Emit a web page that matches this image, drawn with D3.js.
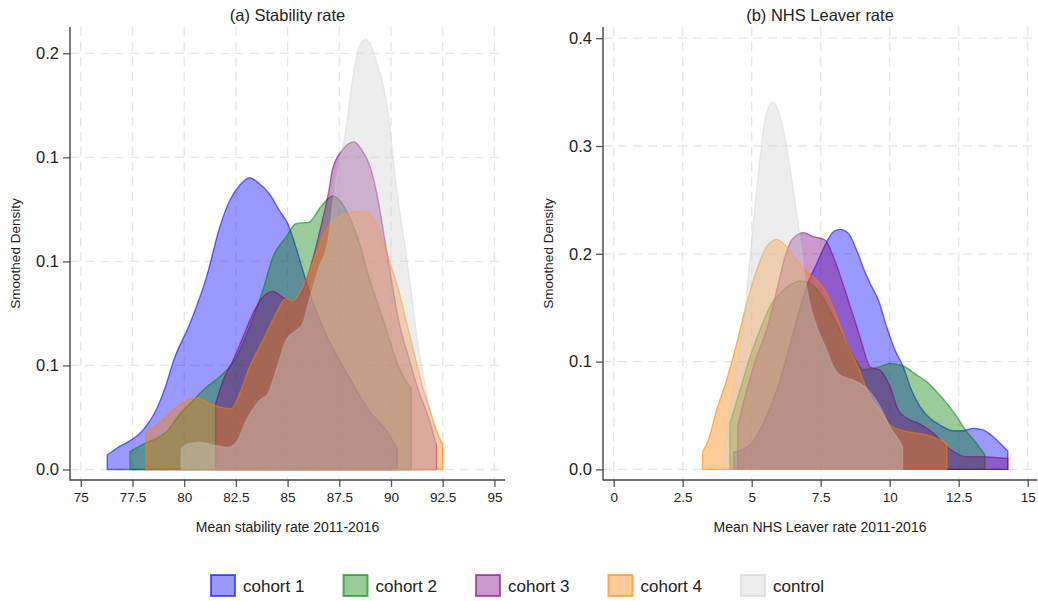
<!DOCTYPE html>
<html>
<head>
<meta charset="utf-8">
<script src="https://d3js.org/d3.v7.min.js"></script>
<style>
  body { margin: 0; background: #fff; }
  text { font-family: "Liberation Sans", Arial, sans-serif; fill: #222; }
</style>
</head>
<body>
<svg id="vis" width="1038" height="601"></svg>
<script>
  // groups and colours
  var groups = ["cohort 1", "cohort 2", "cohort 3", "cohort 4", "control"]
  var colors = ["#0000ff", "#008000", "#800080", "#ff8000", "#d3d3d3"]

  // ticks
  var stabTicksX = [75, 77.5, 80, 82.5, 85, 87.5, 90, 92.5, 95]
  var stabTicksY = [0, 0.05, 0.1, 0.15, 0.2]
  var stabLabelsY = ["0.0", "0.1", "0.1", "0.1", "0.2"]
  var leavTicksX = [0, 2.5, 5, 7.5, 10, 12.5, 15]
  var leavTicksY = [0, 0.1, 0.2, 0.3, 0.4]
  var leavLabelsY = ["0.0", "0.1", "0.2", "0.3", "0.4"]

  // (a) stability rate: [rate, density]
  var stabCohort1 = [[76.28,0.007],[76.74,0.0102],[77.3,0.0134],[77.86,0.0174],[78.26,0.0222],[78.67,0.0292],[79.1,0.040],[79.49,0.0524],[80.27,0.070],[81.08,0.0925],[81.72,0.1165],[82.2,0.1293],[82.68,0.1365],[83.16,0.1402],[83.64,0.1373],[84.12,0.1325],[84.6,0.1245],[85.01,0.1181],[85.4,0.1069],[85.88,0.0909],[86.37,0.0764],[86.9,0.064],[87.16,0.0588],[87.97,0.0444],[88.93,0.0284],[89.89,0.0171],[90.3,0.0099]]
  var stabCohort2 = [[77.38,0.0086],[78.1,0.0126],[78.67,0.015],[79.15,0.0182],[79.8,0.0268],[80.43,0.0332],[81.08,0.0396],[81.88,0.046],[82.52,0.054],[83.16,0.0684],[83.8,0.0861],[84.29,0.1021],[84.92,0.1117],[85.4,0.1181],[86.04,0.1189],[86.6,0.1261],[87.18,0.1314],[87.64,0.1277],[88.13,0.1181],[88.53,0.1069],[88.93,0.0925],[89.41,0.078],[89.89,0.0636],[90.37,0.0492],[90.98,0.039]]
  var stabCohort3 = [[81.52,0.0316],[81.88,0.0428],[82.36,0.0524],[82.84,0.0636],[83.32,0.0749],[83.8,0.0828],[84.28,0.0856],[84.76,0.0828],[85.24,0.0804],[85.72,0.0861],[86.2,0.1005],[86.68,0.1197],[87.0,0.1341],[87.16,0.1438],[87.64,0.1534],[88.21,0.1574],[88.6,0.1534],[89.0,0.1453],[89.41,0.1277],[89.73,0.1085],[90.05,0.0893],[90.37,0.0716],[90.85,0.054],[91.33,0.038],[91.81,0.0251],[92.2,0.0115]]
  var stabCohort4 = [[78.15,0.0182],[78.67,0.0214],[79.47,0.0287],[80.12,0.0332],[80.67,0.0345],[81.24,0.0316],[81.72,0.03],[82.28,0.0292],[82.68,0.0364],[83.16,0.0492],[83.8,0.062],[84.44,0.0749],[84.92,0.0821],[85.24,0.0804],[85.56,0.0845],[85.88,0.0909],[86.37,0.1037],[86.85,0.1149],[87.2,0.1195],[87.64,0.1221],[88.69,0.1242],[89.09,0.1213],[89.57,0.1117],[89.97,0.0989],[90.37,0.0861],[90.69,0.0732],[91.09,0.0572],[91.49,0.0412],[91.89,0.0284],[92.45,0.0131],[92.5,0.0125]]
  var stabControl = [[79.85,0.0102],[80.28,0.0126],[80.75,0.0131],[81.56,0.0115],[82.12,0.0107],[82.52,0.0131],[83.0,0.0236],[83.64,0.0332],[84.04,0.0364],[84.44,0.0476],[84.92,0.062],[85.4,0.0668],[85.72,0.07],[86.04,0.0813],[86.52,0.0973],[86.92,0.1085],[87.33,0.139],[87.81,0.163],[88.13,0.187],[88.45,0.203],[88.77,0.2066],[89.0,0.2046],[89.33,0.195],[89.65,0.1838],[89.89,0.1694],[90.13,0.147],[90.37,0.1277],[90.69,0.1069],[91.01,0.0828],[91.33,0.0588],[91.65,0.0412],[91.9,0.028],[92.15,0.018]]

  // (b) NHS leaver rate: [rate, density]
  var leavCohort1 = [[4.35,0.016],[4.94,0.0226],[5.42,0.0428],[5.91,0.0737],[6.27,0.1045],[6.63,0.1386],[6.99,0.1695],[7.36,0.1912],[7.72,0.2112],[7.96,0.2205],[8.2,0.2227],[8.5,0.219],[8.8,0.2035],[9.06,0.186],[9.3,0.172],[9.59,0.1571],[9.89,0.1324],[10.19,0.1108],[10.49,0.0953],[10.74,0.0767],[11.1,0.0582],[11.46,0.0474],[11.82,0.0412],[12.3,0.0359],[12.67,0.0359],[13.03,0.0381],[13.39,0.0366],[13.75,0.0303],[14.24,0.018],[14.28,0.017]]
  var leavCohort2 = [[4.21,0.0428],[4.58,0.0737],[4.94,0.1045],[5.3,0.1293],[5.66,0.1509],[6.03,0.1634],[6.39,0.1711],[6.75,0.1748],[7.11,0.1726],[7.47,0.1634],[7.83,0.1479],[8.2,0.1293],[8.56,0.1108],[8.8,0.1],[9.04,0.0925],[9.65,0.0953],[10.01,0.0984],[10.49,0.0959],[10.98,0.0876],[11.34,0.0814],[11.7,0.0721],[12.07,0.0613],[12.43,0.0489],[12.79,0.035],[13.15,0.0242],[13.45,0.0134]]
  var leavCohort3 = [[4.49,0.04],[4.82,0.0737],[5.18,0.1045],[5.54,0.1293],[5.91,0.1664],[6.21,0.1973],[6.45,0.2128],[6.87,0.2196],[7.23,0.2159],[7.66,0.2128],[7.96,0.1973],[8.26,0.1757],[8.56,0.152],[8.8,0.133],[8.99,0.117],[9.29,0.095],[9.65,0.092],[10.01,0.077],[10.31,0.0551],[10.74,0.0458],[11.1,0.0421],[11.58,0.0335],[12.07,0.021],[12.79,0.0118],[13.39,0.0118],[14.24,0.0103],[14.28,0.0103]]
  var leavCohort4 = [[3.22,0.0164],[3.43,0.0273],[3.73,0.0551],[4.09,0.0829],[4.46,0.117],[4.82,0.1541],[5.18,0.185],[5.54,0.2066],[5.91,0.2134],[6.27,0.2066],[6.63,0.1942],[6.99,0.1834],[7.36,0.1757],[7.72,0.1634],[8.08,0.1417],[8.44,0.117],[8.8,0.0984],[9.29,0.0675],[9.65,0.0551],[10.01,0.0412],[10.37,0.0366],[10.86,0.034],[11.34,0.0319],[11.82,0.0273],[12.07,0.0242]]
  var leavControl = [[3.97,0.0118],[4.33,0.0737],[4.7,0.1355],[5.0,0.2128],[5.24,0.2747],[5.48,0.3241],[5.76,0.3411],[6.03,0.3272],[6.27,0.2993],[6.51,0.2592],[6.75,0.2159],[6.93,0.1788],[7.11,0.1541],[7.41,0.1293],[7.72,0.1108],[7.96,0.0953],[8.2,0.0876],[8.68,0.0829],[9.17,0.0752],[9.65,0.0582],[10.01,0.0396],[10.37,0.0257],[10.47,0.021]]

  var svg = d3.select('#vis')

  function drawPanel(p) {
    var x = d3.scaleLinear().domain(p.xDomain).range(p.xRange)
    var y = d3.scaleLinear().domain(p.yDomain).range(p.yRange)
    var g = svg.append('g')

    // grid
    g.selectAll('.vgrid').data(p.ticksX).enter().append('line')
      .attr('x1', d => x(d)).attr('x2', d => x(d))
      .attr('y1', p.top).attr('y2', p.bottom)
      .attr('stroke', '#e6e6e6').attr('stroke-width', 1.3).attr('stroke-dasharray', '9,6')
    g.selectAll('.hgrid').data(p.ticksY).enter().append('line')
      .attr('x1', p.left).attr('x2', p.right)
      .attr('y1', d => y(d)).attr('y2', d => y(d))
      .attr('stroke', '#e6e6e6').attr('stroke-width', 1.3).attr('stroke-dasharray', '9,6')

    // densities
    var area = d3.area()
      .x(d => x(d[0]))
      .y0(y(0))
      .y1(d => y(d[1]))
      .curve(d3.curveMonotoneX)
    p.series.forEach(function (s, i) {
      g.append('path')
        .attr('d', area(s))
        .attr('fill', colors[i]).attr('fill-opacity', 0.4)
        .attr('stroke', i == 4 ? '#c8c8c8' : colors[i]).attr('stroke-opacity', i == 4 ? 0.3 : 0.55)
        .attr('stroke-width', 1.4)
        .attr('stroke-linejoin', 'round')
    })

    // axes
    var xAxis = d3.axisBottom(x).tickValues(p.ticksX).tickSize(7).tickPadding(5)
      .tickFormat(d => String(d))
    var gx = g.append('g').attr('transform', 'translate(0,' + p.bottom + ')').call(xAxis)
    gx.select('.domain').remove()
    gx.selectAll('line').attr('stroke', '#555').attr('stroke-width', 1.3)
    gx.selectAll('text').attr('font-size', 13.5).attr('font-family', '"Liberation Sans", Arial, sans-serif').attr('fill', '#222')

    var yAxis = d3.axisLeft(y).tickValues(p.ticksY).tickSize(7).tickPadding(4)
      .tickFormat((d, i) => p.labelsY[i])
    var gy = g.append('g').attr('transform', 'translate(' + p.left + ',0)').call(yAxis)
    gy.select('.domain').remove()
    gy.selectAll('line').attr('stroke', '#555').attr('stroke-width', 1.3)
    gy.selectAll('text').attr('font-size', 16.5).attr('font-family', '"Liberation Sans", Arial, sans-serif').attr('fill', '#222')

    g.append('line').attr('x1', p.left).attr('x2', p.left).attr('y1', p.top).attr('y2', p.bottom + 0.6)
      .attr('stroke', '#444').attr('stroke-width', 1.4)
    g.append('line').attr('x1', p.left).attr('x2', p.right).attr('y1', p.bottom).attr('y2', p.bottom)
      .attr('stroke', '#444').attr('stroke-width', 1.4)

    // titles
    var cx = (p.left + p.right) / 2
    g.append('text').attr('x', cx).attr('y', 21).attr('text-anchor', 'middle')
      .attr('font-size', 16.5).text(p.title)
    g.append('text').attr('x', cx).attr('y', 532).attr('text-anchor', 'middle')
      .attr('font-size', 14).text(p.xTitle)
    g.append('text').attr('transform', 'translate(' + p.yTitleX + ',' + ((p.top + p.bottom) / 2) + ') rotate(-90)')
      .attr('text-anchor', 'middle').attr('font-size', 13.5).text('Smoothed Density')
  }

  drawPanel({
    left: 70, right: 505, top: 27, bottom: 480,
    xDomain: [75, 95], xRange: [80.8, 494.4],
    yDomain: [0, 0.2], yRange: [469.5, 53.3],
    ticksX: stabTicksX, ticksY: stabTicksY, labelsY: stabLabelsY,
    series: [stabCohort1, stabCohort2, stabCohort3, stabCohort4, stabControl],
    title: '(a) Stability rate', xTitle: 'Mean stability rate 2011-2016', yTitleX: 20
  })

  drawPanel({
    left: 603, right: 1037, top: 27, bottom: 480,
    xDomain: [0, 15], xRange: [613.7, 1027.7],
    yDomain: [0, 0.4], yRange: [469.4, 38.2],
    ticksX: leavTicksX, ticksY: leavTicksY, labelsY: leavLabelsY,
    series: [leavCohort1, leavCohort2, leavCohort3, leavCohort4, leavControl],
    title: '(b) NHS Leaver rate', xTitle: 'Mean NHS Leaver rate 2011-2016', yTitleX: 553
  })

  // legend
  var legend = svg.append('g').attr('transform', 'translate(210,574)')
  var item = legend.selectAll('g').data(groups).enter().append('g')
    .attr('transform', (d, i) => 'translate(' + (i * 132.5) + ',0)')
  item.append('rect')
    .attr('x', 1).attr('y', 1).attr('width', 24).attr('height', 21)
    .attr('fill', (d, i) => colors[i]).attr('fill-opacity', 0.4)
    .attr('stroke', (d, i) => colors[i]).attr('stroke-opacity', 0.6).attr('stroke-width', 2)
  item.append('text')
    .attr('x', 33).attr('y', 18)
    .attr('font-size', 17)
    .text(d => d)
</script>
</body>
</html>
